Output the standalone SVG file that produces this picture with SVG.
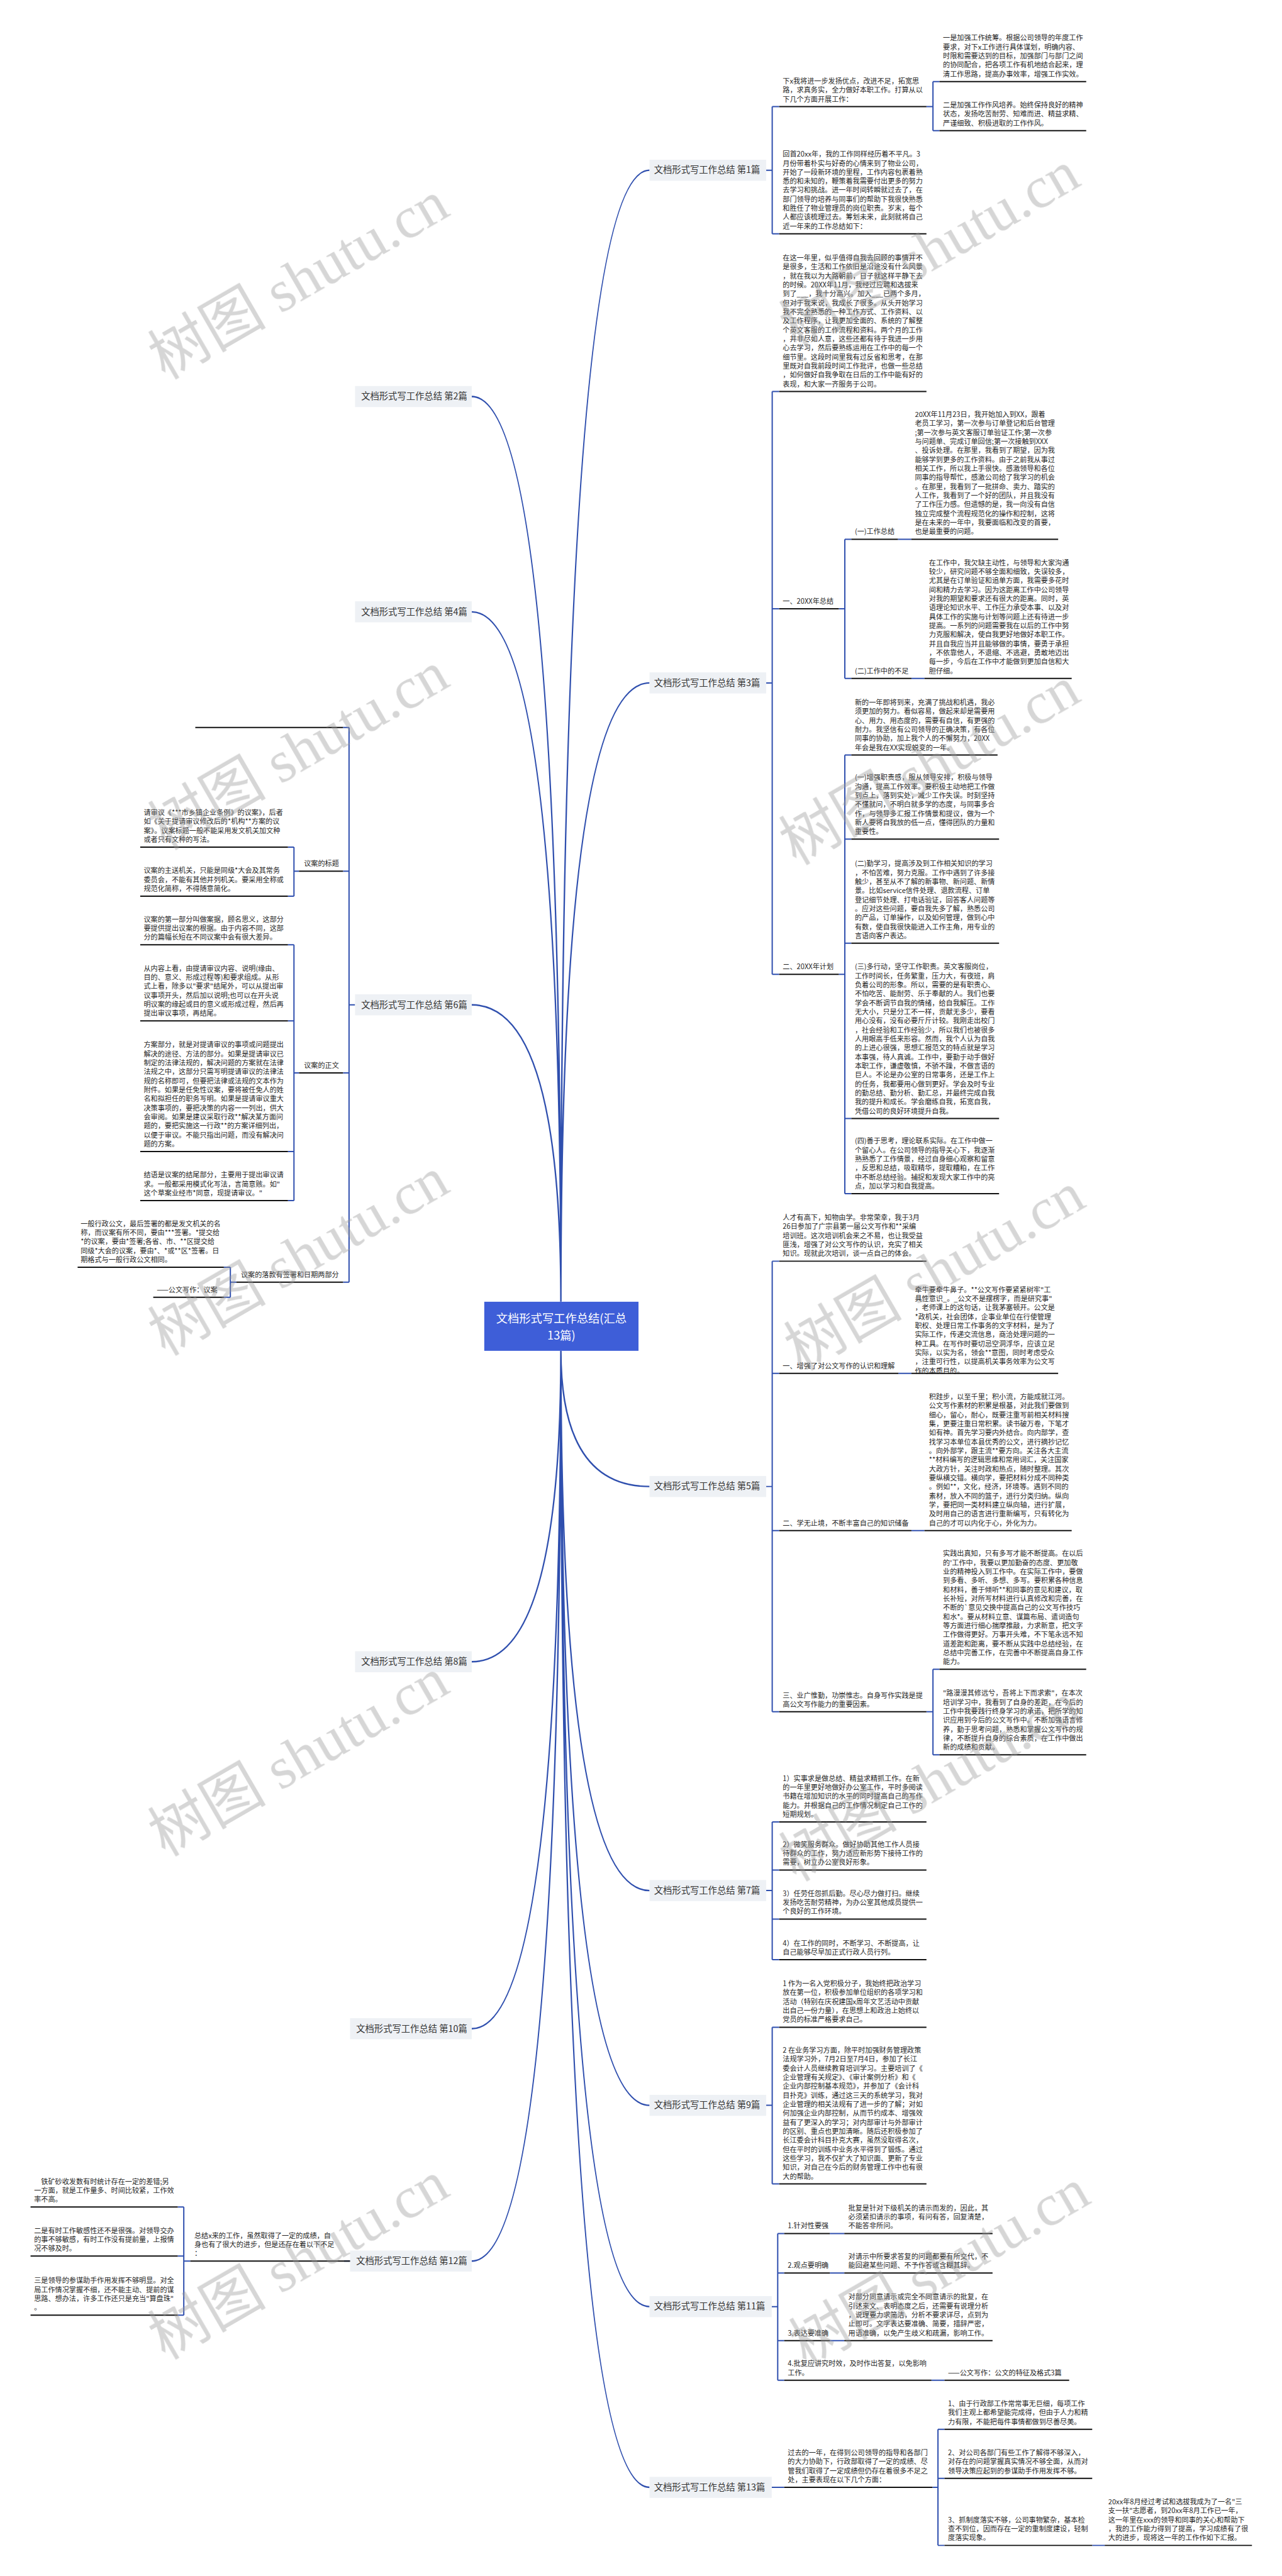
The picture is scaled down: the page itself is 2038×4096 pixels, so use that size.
<svg xmlns="http://www.w3.org/2000/svg" width="2038" height="4096" viewBox="0 0 2038 4096">
<style>
text{font-family:"Noto Sans CJK SC","Microsoft YaHei",sans-serif;font-size:14px;fill:#262626}
.lb{font-size:18px;fill:#333}
.ct{font-size:23px;fill:#fff}
.lbox{fill:#eef1f5}
.ul{stroke:#111;stroke-width:2.5;fill:none}
.cn{stroke:#2f4fae;stroke-width:2.5;fill:none;stroke-linejoin:round}
.cv{stroke:#2f4fae;stroke-width:3;fill:none}
.wm text{font-family:"Liberation Serif","Noto Sans CJK SC",serif;font-size:118px;fill:#9a9a9a}
</style>
<rect width="2038" height="4096" fill="#fff"/>
<g transform="scale(0.7961)">
<g id="connectors">
<path class="cv" d="M1120 2600Q1120 792 942 792M1120 2600Q1120 1222 942 1222M1120 2600Q1120 2007 942 2007M1120 2600Q1120 340 1297 340M1120 2600Q1120 1364 1297 1364M1120 2698Q1120 3319 942 3319M1120 2698Q1120 4052 942 4052M1120 2698Q1120 4516 942 4516M1120 2698Q1120 2969 1297 2969M1120 2698Q1120 3776 1297 3776M1120 2698Q1120 4205 1297 4205M1120 2698Q1120 4607 1297 4607M1120 2698Q1120 4968 1297 4968"/>
<path class="cn" d="M1530 340H1542M1542 213V467M1542 213H1556M1542 467H1556M1850 213H1863M1863 163V261M1863 163H1876M1863 261H1876"/>
<path class="cn" d="M1530 1364H1542M1542 782V1946M1542 782H1556M1542 1216H1556M1542 1946H1556M1675 1216H1687M1687 1077V1355M1687 1077H1700M1687 1355H1700M1793 1077H1820M1820 1355H1846M1675 1946H1687M1687 1508V2384M1687 1508H1700M1687 1676H1700M1687 1884H1700M1687 2234H1700M1687 2384H1700"/>
<path class="cn" d="M1530 2969H1542M1542 2519V3419M1542 2519H1556M1542 2743H1556M1542 3057H1556M1542 3419H1556M1794 2743H1820M1820 3057H1846M1850 3419H1863M1863 3334V3505M1863 3334H1876M1863 3505H1876"/>
<path class="cn" d="M1530 3776H1542M1542 3639V3914M1542 3639H1556M1542 3735H1556M1542 3833H1556M1542 3914H1556M1530 4205H1542M1542 4049V4362M1542 4049H1556M1542 4362H1556"/>
<path class="cn" d="M1541 4607H1553M1553 4461V4754M1553 4461H1566M1553 4540H1566M1553 4675H1566M1553 4754H1566M1657 4461H1686M1657 4540H1686M1657 4675H1686M1860 4754H1886M1541 4968H1566M1862 4968H1873M1873 4852V5084M1873 4852H1886M1873 4950H1886M1873 5084H1886M2181 5084H2206"/>
<path class="cn" d="M709 2007H697M697 1453V2561M697 1453H685M697 1740H685M697 2143H685M697 2561H685M597 1740H587M587 1692V1790M587 1692H575M587 1790H575M597 2143H587M587 1887V2398M587 1887H575M587 2039H575M587 2300H575M587 2398H575M472 2561H460M460 2531V2591M460 2531H447M460 2591H447"/>
<path class="cn" d="M699 4516H687M380 4516H367M367 4408V4624M367 4408H355M367 4506H355M367 4624H355"/>
</g>
<g id="center">
<rect x="967" y="2600" width="308" height="98" fill="#3e5ed8"/>
<text class="ct" x="1121" y="2641" text-anchor="middle">文档形式写工作总结(汇总</text>
<text class="ct" x="1121" y="2675" text-anchor="middle">13篇)</text>
</g>
<g id="b1">
<rect class="lbox" x="1297" y="319" width="233" height="42"/>
<text class="lb" x="1306" y="346">文档形式写工作总结 第1篇</text>
</g>
<g id="b1a">
<path class="ul" d="M1556 213H1850"/>
<text x="1563" y="167"><tspan x="1563">下x我将进一步发扬优点，改进不足，拓宽思</tspan><tspan x="1563" dy="18">路，求真务实，全力做好本职工作。打算从以</tspan><tspan x="1563" dy="18">下几个方面开展工作：</tspan></text>
</g>
<g id="b1a1">
<path class="ul" d="M1876 163H2169"/>
<text x="1883" y="81"><tspan x="1883">一是加强工作统筹。根据公司领导的年度工作</tspan><tspan x="1883" dy="18">要求，对下x工作进行具体谋划，明确内容、</tspan><tspan x="1883" dy="18">时限和需要达到的目标，加强部门与部门之间</tspan><tspan x="1883" dy="18">的协同配合，把各项工作有机地结合起来，理</tspan><tspan x="1883" dy="18">清工作思路，提高办事效率，增强工作实效。</tspan></text>
</g>
<g id="b1a2">
<path class="ul" d="M1876 261H2169"/>
<text x="1883" y="215"><tspan x="1883">二是加强工作作风培养。始终保持良好的精神</tspan><tspan x="1883" dy="18">状态，发扬吃苦耐劳、知难而进、精益求精、</tspan><tspan x="1883" dy="18">严谨细致、积极进取的工作作风。</tspan></text>
</g>
<g id="b1b">
<path class="ul" d="M1556 467H1850"/>
<text x="1563" y="313"><tspan x="1563">回首20xx年，我的工作同样经历着不平凡。3</tspan><tspan x="1563" dy="18">月份带着朴实与好奇的心情来到了物业公司，</tspan><tspan x="1563" dy="18">开始了一段新环境的里程，工作内容包裹着熟</tspan><tspan x="1563" dy="18">悉的和未知的，鞭策着我需要付出更多的努力</tspan><tspan x="1563" dy="18">去学习和挑战。进一年时间转瞬就过去了，在</tspan><tspan x="1563" dy="18">部门领导的培养与同事们的帮助下我很快熟悉</tspan><tspan x="1563" dy="18">和胜任了物业管理员的岗位职责。岁末，每个</tspan><tspan x="1563" dy="18">人都应该梳理过去。筹划未来，此刻就将自己</tspan><tspan x="1563" dy="18">近一年来的工作总结如下：</tspan></text>
</g>
<g id="b3">
<rect class="lbox" x="1297" y="1343" width="233" height="42"/>
<text class="lb" x="1306" y="1370">文档形式写工作总结 第3篇</text>
</g>
<g id="b3a">
<path class="ul" d="M1556 782H1850"/>
<text x="1563" y="520"><tspan x="1563">在这一年里，似乎值得自我去回顾的事情并不</tspan><tspan x="1563" dy="18">是很多，生活和工作依旧是沿途没有什么风景</tspan><tspan x="1563" dy="18">，就在我以为大路朝前，日子就这样平静下去</tspan><tspan x="1563" dy="18">的时候。20XX年11月，我经过应聘和选拔来</tspan><tspan x="1563" dy="18">到了___，我十分高兴。加入___已两个多月，</tspan><tspan x="1563" dy="18">但对于我来说，我成长了很多。从头开始学习</tspan><tspan x="1563" dy="18">我不完全熟悉的一种工作方式、工作资料、以</tspan><tspan x="1563" dy="18">及工作程序，让我更加全面的、系统的了解整</tspan><tspan x="1563" dy="18">个英文客服的工作流程和资料。两个月的工作</tspan><tspan x="1563" dy="18">，并非尽如人意，这些还都有待于我进一步用</tspan><tspan x="1563" dy="18">心去学习，然后要熟练运用在工作中的每一个</tspan><tspan x="1563" dy="18">细节里。这段时间里我有过反省和思考，在那</tspan><tspan x="1563" dy="18">里既对自我前段时间工作批评，也做一些总结</tspan><tspan x="1563" dy="18">，如何做好自我争取在日后的工作中能有好的</tspan><tspan x="1563" dy="18">表现，和大家一齐服务于公司。</tspan></text>
</g>
<g id="b3b">
<path class="ul" d="M1556 1216H1675"/>
<text x="1563" y="1206">一、20XX年总结</text>
</g>
<g id="b3b1">
<path class="ul" d="M1700 1077H1793"/>
<text x="1707" y="1067">(一)工作总结</text>
</g>
<g id="b3b1a">
<path class="ul" d="M1820 1077H2113"/>
<text x="1827" y="833"><tspan x="1827">20XX年11月23日，我开始加入到XX，跟着</tspan><tspan x="1827" dy="18">老员工学习，第一次参与订单登记和后台管理</tspan><tspan x="1827" dy="18">;第一次参与英文客服订单验证工作;第一次参</tspan><tspan x="1827" dy="18">与问题单、完成订单回信;第一次接触到XXX</tspan><tspan x="1827" dy="18">、投诉处理。在那里，我看到了期望，因为我</tspan><tspan x="1827" dy="18">能够学到更多的工作资料。由于之前我从事过</tspan><tspan x="1827" dy="18">相关工作，所以我上手很快。感激领导和各位</tspan><tspan x="1827" dy="18">同事的指导帮忙，感激公司给了我学习的机会</tspan><tspan x="1827" dy="18">。在那里，我看到了一批拼命、卖力、踏实的</tspan><tspan x="1827" dy="18">人工作，我看到了一个好的团队，并且我没有</tspan><tspan x="1827" dy="18">了工作压力感。但遗憾的是，我一向没有自信</tspan><tspan x="1827" dy="18">独立完成整个流程规范化的操作和控制，这将</tspan><tspan x="1827" dy="18">是在未来的一年中，我要面临和改变的首要，</tspan><tspan x="1827" dy="18">也是最重要的问题。</tspan></text>
</g>
<g id="b3b2">
<path class="ul" d="M1700 1355H1820"/>
<text x="1707" y="1345">(二)工作中的不足</text>
</g>
<g id="b3b2a">
<path class="ul" d="M1846 1355H2140"/>
<text x="1855" y="1129"><tspan x="1855">在工作中，我欠缺主动性，与领导和大家沟通</tspan><tspan x="1855" dy="18">较少，研究问题不够全面和细致，失误较多，</tspan><tspan x="1855" dy="18">尤其是在订单验证和追单方面，我需要多花时</tspan><tspan x="1855" dy="18">间和精力去学习。因为这距离工作中公司领导</tspan><tspan x="1855" dy="18">对我的期望和要求还有很大的距离。同时，英</tspan><tspan x="1855" dy="18">语理论知识水平、工作压力承受本事、以及对</tspan><tspan x="1855" dy="18">具体工作的实施与计划等问题上还有待进一步</tspan><tspan x="1855" dy="18">提高。一系列的问题需要我在以后的工作中努</tspan><tspan x="1855" dy="18">力克服和解决，使自我更好地做好本职工作。</tspan><tspan x="1855" dy="18">并且自我应当并且能够做的事情，要勇于承担</tspan><tspan x="1855" dy="18">，不依靠他人，不退缩、不逃避，勇敢地迈出</tspan><tspan x="1855" dy="18">每一步，今后在工作中才能做到更加自信和大</tspan><tspan x="1855" dy="18">胆仔细。</tspan></text>
</g>
<g id="b3c">
<path class="ul" d="M1556 1946H1675"/>
<text x="1563" y="1936">二、20XX年计划</text>
</g>
<g id="b3c1">
<path class="ul" d="M1700 1508H1992"/>
<text x="1707" y="1408"><tspan x="1707">新的一年即将到来，充满了挑战和机遇，我必</tspan><tspan x="1707" dy="18">须更加的努力。看似容易，做起来却是需要用</tspan><tspan x="1707" dy="18">心、用力、用态度的，需要有自信，有更强的</tspan><tspan x="1707" dy="18">耐力。我坚信有公司领导的正确决策，有各位</tspan><tspan x="1707" dy="18">同事的协助，加上我个人的不懈努力，20XX</tspan><tspan x="1707" dy="18">年会是我在XX实现蜕变的一年。</tspan></text>
</g>
<g id="b3c2">
<path class="ul" d="M1700 1676H1995"/>
<text x="1707" y="1558"><tspan x="1707">(一)增强职责感，服从领导安排，积极与领导</tspan><tspan x="1707" dy="18">沟通，提高工作效率。要积极主动地把工作做</tspan><tspan x="1707" dy="18">到点上，落到实处，减少工作失误。时刻坚持</tspan><tspan x="1707" dy="18">不懂就问，不明白就多学的态度，与同事多合</tspan><tspan x="1707" dy="18">作，与领导多汇报工作情景和提议，做为一个</tspan><tspan x="1707" dy="18">新人要将自我放的低一点，懂得团队的力量和</tspan><tspan x="1707" dy="18">重要性。</tspan></text>
</g>
<g id="b3c3">
<path class="ul" d="M1700 1884H1995"/>
<text x="1707" y="1730"><tspan x="1707">(二)勤学习，提高涉及到工作相关知识的学习</tspan><tspan x="1707" dy="18">，不怕苦难，努力克服。工作中遇到了许多接</tspan><tspan x="1707" dy="18">触少，甚至从不了解的新事物、新问题、新情</tspan><tspan x="1707" dy="18">景。比如service信件处理、退款流程、订单</tspan><tspan x="1707" dy="18">登记细节处理、打电话验证，回答客人问题等</tspan><tspan x="1707" dy="18">。应对这些问题，要自我先多了解，熟悉公司</tspan><tspan x="1707" dy="18">的产品，订单操作，以及如何管理，做到心中</tspan><tspan x="1707" dy="18">有数，使自我很快能进入工作主角，用专业的</tspan><tspan x="1707" dy="18">言语向客户表达。</tspan></text>
</g>
<g id="b3c4">
<path class="ul" d="M1700 2234H1995"/>
<text x="1707" y="1936"><tspan x="1707">(三)多行动，坚守工作职责。英文客服岗位，</tspan><tspan x="1707" dy="18">工作时间长，任务繁重，压力大，有夜班，肩</tspan><tspan x="1707" dy="18">负着公司的形象。所以，需要的是有职责心、</tspan><tspan x="1707" dy="18">不怕吃苦、能耐劳、乐于奉献的人。我们也要</tspan><tspan x="1707" dy="18">学会不断调节自我的情绪，给自我解压。工作</tspan><tspan x="1707" dy="18">无大小，只是分工不一样，贡献无多少，要看</tspan><tspan x="1707" dy="18">用心没有，没有必要斤斤计较。我刚走出校门</tspan><tspan x="1707" dy="18">，社会经验和工作经验少，所以我们也被很多</tspan><tspan x="1707" dy="18">人用眼高手低来形容。然而，我个人认为自我</tspan><tspan x="1707" dy="18">的上进心很强，思想汇报范文的特点就是学习</tspan><tspan x="1707" dy="18">本事强，待人真诚。工作中，要勤于动手做好</tspan><tspan x="1707" dy="18">本职工作，谦虚敬慎，不骄不躁，不做言语的</tspan><tspan x="1707" dy="18">巨人。不论是办公室的日常事务，还是工作上</tspan><tspan x="1707" dy="18">的任务，我都要用心做到更好。学会及时专业</tspan><tspan x="1707" dy="18">的勤总结、勤分析、勤汇总，并最终完成自我</tspan><tspan x="1707" dy="18">我的提升和成长。学会磨练自我，拓宽自我，</tspan><tspan x="1707" dy="18">凭借公司的良好环境提升自我。</tspan></text>
</g>
<g id="b3c5">
<path class="ul" d="M1700 2384H1995"/>
<text x="1707" y="2284"><tspan x="1707">(四)善于思考，理论联系实际。在工作中做一</tspan><tspan x="1707" dy="18">个留心人。在公司领导的指导关心下，我逐渐</tspan><tspan x="1707" dy="18">熟熟悉了工作情景，经过自身细心观察和留意</tspan><tspan x="1707" dy="18">，反思和总结，吸取精华，提取糟粕，在工作</tspan><tspan x="1707" dy="18">中不断总结经验。捕捉和发现大家工作中的亮</tspan><tspan x="1707" dy="18">点，加以学习和自我提高。</tspan></text>
</g>
<g id="b5">
<rect class="lbox" x="1297" y="2948" width="233" height="42"/>
<text class="lb" x="1306" y="2975">文档形式写工作总结 第5篇</text>
</g>
<g id="b5a">
<path class="ul" d="M1556 2519H1850"/>
<text x="1563" y="2437"><tspan x="1563">人才有高下，知物由学。非常荣幸，我于3月</tspan><tspan x="1563" dy="18">26日参加了广宗县第一届公文写作和**采编</tspan><tspan x="1563" dy="18">培训班。这次培训机会来之不易，也让我受益</tspan><tspan x="1563" dy="18">匪浅，增强了对公文写作的认识，充实了相关</tspan><tspan x="1563" dy="18">知识。现就此次培训，谈一点自己的体会。</tspan></text>
</g>
<g id="b5b">
<path class="ul" d="M1556 2743H1794"/>
<text x="1563" y="2733">一、增强了对公文写作的认识和理解</text>
</g>
<g id="b5b1">
<path class="ul" d="M1820 2743H2113"/>
<text x="1827" y="2581"><tspan x="1827">牵牛要牵牛鼻子。**公文写作要紧紧树牢"工</tspan><tspan x="1827" dy="18">具性意识_。_公文不是摆楞字，而是研究事"</tspan><tspan x="1827" dy="18">，老师课上的这句话，让我茅塞顿开。公文是</tspan><tspan x="1827" dy="18">*政机关，社会团体，企事业单位在行使管理</tspan><tspan x="1827" dy="18">职权、处理日常工作事务的文字材料，是为了</tspan><tspan x="1827" dy="18">实际工作，传递交流信息，商洽处理问题的一</tspan><tspan x="1827" dy="18">种工具。在写作时要切忌空洞浮华，应该立足</tspan><tspan x="1827" dy="18">实际，以实为名，领会**意图，同时考虑受众</tspan><tspan x="1827" dy="18">，注重可行性，以提高机关事务效率为公文写</tspan><tspan x="1827" dy="18">作的本质目的。</tspan></text>
</g>
<g id="b5c">
<path class="ul" d="M1556 3057H1820"/>
<text x="1563" y="3047">二、学无止境，不断丰富自己的知识储备</text>
</g>
<g id="b5c1">
<path class="ul" d="M1846 3057H2140"/>
<text x="1855" y="2795"><tspan x="1855">积跬步，以至千里；积小流，方能成就江河。</tspan><tspan x="1855" dy="18">公文写作素材的积累是根基，对此我们要做到</tspan><tspan x="1855" dy="18">细心，留心，耐心，既要注重写前相关材料搜</tspan><tspan x="1855" dy="18">集，更要注重日常积累。读书破万卷，下笔才</tspan><tspan x="1855" dy="18">如有神。首先学习要内外结合。向内部学，查</tspan><tspan x="1855" dy="18">找学习本单位本县优秀的公文，进行摘抄记忆</tspan><tspan x="1855" dy="18">。向外部学，跟主流**要方向。关注各大主流</tspan><tspan x="1855" dy="18">**材料编写的逻辑思维和常用词汇，关注国家</tspan><tspan x="1855" dy="18">大政方针，关注时政和热点，随时整理。其次</tspan><tspan x="1855" dy="18">要纵横交错。横向学，要把材料分成不同种类</tspan><tspan x="1855" dy="18">。例如**，文化，经济，环境等。遇到不同的</tspan><tspan x="1855" dy="18">素材，放入不同的篮子，进行分类归纳。纵向</tspan><tspan x="1855" dy="18">学，要把同一类材料建立纵向轴，进行扩展，</tspan><tspan x="1855" dy="18">及时用自己的语言进行重新编写，只有转化为</tspan><tspan x="1855" dy="18">自己的才可以内化于心，外化为力。</tspan></text>
</g>
<g id="b5d">
<path class="ul" d="M1556 3419H1850"/>
<text x="1563" y="3391"><tspan x="1563">三、业广惟勤，功崇惟志。自身写作实践是提</tspan><tspan x="1563" dy="18">高公文写作能力的重要因素。</tspan></text>
</g>
<g id="b5d1">
<path class="ul" d="M1876 3334H2169"/>
<text x="1883" y="3108"><tspan x="1883">实践出真知，只有多写才能不断提高。在以后</tspan><tspan x="1883" dy="18">的'工作中，我要以更加勤奋的态度、更加敬</tspan><tspan x="1883" dy="18">业的精神投入到工作中。在实际工作中，要做</tspan><tspan x="1883" dy="18">到多看、多听、多想、多写。要积累各种信息</tspan><tspan x="1883" dy="18">和材料，善于倾听**和同事的意见和建议，取</tspan><tspan x="1883" dy="18">长补短，对所写材料进行认真修改和完善，在</tspan><tspan x="1883" dy="18">不断的`意见交换中提高自己的公文写作技巧</tspan><tspan x="1883" dy="18">和水*。要从材料立意、谋篇布局、遣词造句</tspan><tspan x="1883" dy="18">等方面进行细心揣摩推敲，力求新意，把文字</tspan><tspan x="1883" dy="18">工作做得更好。万事开头难，不下笔永远不知</tspan><tspan x="1883" dy="18">道差距和距离，要不断从实践中总结经验，在</tspan><tspan x="1883" dy="18">总结中完善工作，在完善中不断提高自身工作</tspan><tspan x="1883" dy="18">能力。</tspan></text>
</g>
<g id="b5d2">
<path class="ul" d="M1876 3505H2169"/>
<text x="1883" y="3387"><tspan x="1883">"路漫漫其修远兮，吾将上下而求索"，在本次</tspan><tspan x="1883" dy="18">培训学习中，我看到了自身的差距，在今后的</tspan><tspan x="1883" dy="18">工作中我要践行终身学习的承诺，把所学的知</tspan><tspan x="1883" dy="18">识应用到今后的公文写作中。不断加强语言修</tspan><tspan x="1883" dy="18">养，勤于思考问题，熟悉和掌握公文写作的规</tspan><tspan x="1883" dy="18">律，不断提升自身的综合素质，在工作中做出</tspan><tspan x="1883" dy="18">新的成绩和贡献。</tspan></text>
</g>
<g id="b7">
<rect class="lbox" x="1297" y="3755" width="233" height="42"/>
<text class="lb" x="1306" y="3782">文档形式写工作总结 第7篇</text>
</g>
<g id="b7a">
<path class="ul" d="M1556 3639H1850"/>
<text x="1563" y="3557"><tspan x="1563">1）实事求是做总结、精益求精抓工作。在新</tspan><tspan x="1563" dy="18">的一年里更好地做好办公室工作，平时多阅读</tspan><tspan x="1563" dy="18">书籍在增加知识的水平的同时提高自己的写作</tspan><tspan x="1563" dy="18">能力。并根据自己的工作情况制定自己工作的</tspan><tspan x="1563" dy="18">短期规划。</tspan></text>
</g>
<g id="b7b">
<path class="ul" d="M1556 3735H1850"/>
<text x="1563" y="3689"><tspan x="1563">2）微笑服务群众。做好协助其他工作人员接</tspan><tspan x="1563" dy="18">待群众的工作，努力适应新形势下接待工作的</tspan><tspan x="1563" dy="18">需要，树立办公室良好形象。</tspan></text>
</g>
<g id="b7c">
<path class="ul" d="M1556 3833H1850"/>
<text x="1563" y="3787"><tspan x="1563">3）任劳任怨抓后勤。尽心尽力做打扫。继续</tspan><tspan x="1563" dy="18">发扬吃苦耐劳精神，为办公室其他成员提供一</tspan><tspan x="1563" dy="18">个良好的工作环境。</tspan></text>
</g>
<g id="b7d">
<path class="ul" d="M1556 3914H1850"/>
<text x="1563" y="3886"><tspan x="1563">4）在工作的同时，不断学习、不断提高，让</tspan><tspan x="1563" dy="18">自己能够尽早加正式行政人员行列。</tspan></text>
</g>
<g id="b9">
<rect class="lbox" x="1297" y="4184" width="233" height="42"/>
<text class="lb" x="1306" y="4211">文档形式写工作总结 第9篇</text>
</g>
<g id="b9a">
<path class="ul" d="M1556 4049H1850"/>
<text x="1563" y="3967"><tspan x="1563">1 作为一名入党积极分子，我始终把政治学习</tspan><tspan x="1563" dy="18">放在第一位，积极参加单位组织的各项学习和</tspan><tspan x="1563" dy="18">活动（特别在庆祝建国x周年文艺活动中贡献</tspan><tspan x="1563" dy="18">出自己一份力量），在思想上和政治上始终以</tspan><tspan x="1563" dy="18">党员的标准严格要求自己。</tspan></text>
</g>
<g id="b9b">
<path class="ul" d="M1556 4362H1850"/>
<text x="1563" y="4100"><tspan x="1563">2 在业务学习方面，除平时加强财务管理政策</tspan><tspan x="1563" dy="18">法规学习外，7月2日至7月4日，参加了长江</tspan><tspan x="1563" dy="18">委会计人员继续教育培训学习。主要培训了《</tspan><tspan x="1563" dy="18">企业管理有关规定》、《审计案例分析》和《</tspan><tspan x="1563" dy="18">企业内部控制基本规范》，并参加了《会计科</tspan><tspan x="1563" dy="18">目扑克》训练，通过这三天的系统学习，我对</tspan><tspan x="1563" dy="18">企业管理的相关法规有了进一步的了解；对如</tspan><tspan x="1563" dy="18">何加强企业内部控制，从而节约成本、增强效</tspan><tspan x="1563" dy="18">益有了更深入的学习；对内部审计与外部审计</tspan><tspan x="1563" dy="18">的区别、重点也更加清晰。随后还积极参加了</tspan><tspan x="1563" dy="18">长江委会计科目扑克大赛，虽然没取得名次，</tspan><tspan x="1563" dy="18">但在平时的训练中业务水平得到了锻炼。通过</tspan><tspan x="1563" dy="18">这些学习，我不仅扩大了知识面、更新了专业</tspan><tspan x="1563" dy="18">知识，对自己在今后的财务管理工作中也有很</tspan><tspan x="1563" dy="18">大的帮助。</tspan></text>
</g>
<g id="b11">
<rect class="lbox" x="1297" y="4586" width="244" height="42"/>
<text class="lb" x="1306" y="4613">文档形式写工作总结 第11篇</text>
</g>
<g id="b11a">
<path class="ul" d="M1566 4461H1657"/>
<text x="1573" y="4451">1.针对性要强</text>
</g>
<g id="b11a1">
<path class="ul" d="M1686 4461H1982"/>
<text x="1694" y="4415"><tspan x="1694">批复是针对下级机关的请示而发的，因此，其</tspan><tspan x="1694" dy="18">必须紧扣请示的事项，有问有答，回复清楚，</tspan><tspan x="1694" dy="18">不能答非所问。</tspan></text>
</g>
<g id="b11b">
<path class="ul" d="M1566 4540H1657"/>
<text x="1573" y="4530">2.观点要明确</text>
</g>
<g id="b11b1">
<path class="ul" d="M1686 4540H1982"/>
<text x="1694" y="4512"><tspan x="1694">对请示中所要求答复的问题都要有所交代，不</tspan><tspan x="1694" dy="18">能回避某些问题、不予作答或含糊其辞。</tspan></text>
</g>
<g id="b11c">
<path class="ul" d="M1566 4675H1657"/>
<text x="1573" y="4665">3.表达要准确</text>
</g>
<g id="b11c1">
<path class="ul" d="M1686 4675H1982"/>
<text x="1694" y="4593"><tspan x="1694">对部分同意请示或完全不同意请示的批复，在</tspan><tspan x="1694" dy="18">引述来文、表明态度之后，还需要有说理分析</tspan><tspan x="1694" dy="18">，说理要力求简洁，分析不要求详尽，点到为</tspan><tspan x="1694" dy="18">止即可。文字表达要准确、简要，措辞严密，</tspan><tspan x="1694" dy="18">用语准确，以免产生歧义和疏漏，影响工作。</tspan></text>
</g>
<g id="b11d">
<path class="ul" d="M1566 4754H1860"/>
<text x="1573" y="4726"><tspan x="1573">4.批复应讲究时效，及时作出答复，以免影响</tspan><tspan x="1573" dy="18">工作。</tspan></text>
</g>
<g id="b11d1">
<path class="ul" d="M1886 4754H2135"/>
<text x="1893" y="4744">——公文写作：公文的特征及格式3篇</text>
</g>
<g id="b13">
<rect class="lbox" x="1297" y="4947" width="244" height="42"/>
<text class="lb" x="1306" y="4974">文档形式写工作总结 第13篇</text>
</g>
<g id="b13a">
<path class="ul" d="M1566 4968H1862"/>
<text x="1573" y="4904"><tspan x="1573">过去的一年，在得到公司领导的指导和各部门</tspan><tspan x="1573" dy="18">的大力协助下，行政部取得了一定的成绩、尽</tspan><tspan x="1573" dy="18">管我们取得了一定成绩但仍存在着很多不足之</tspan><tspan x="1573" dy="18">处，主要表现在以下几个方面：</tspan></text>
</g>
<g id="b13a1">
<path class="ul" d="M1886 4852H2181"/>
<text x="1893" y="4806"><tspan x="1893">1、由于行政部工作常常事无巨细，每项工作</tspan><tspan x="1893" dy="18">我们主观上都希望能完成得，但由于人力和精</tspan><tspan x="1893" dy="18">力有限，不能把每件事情都做到尽善尽美。</tspan></text>
</g>
<g id="b13a2">
<path class="ul" d="M1886 4950H2181"/>
<text x="1893" y="4904"><tspan x="1893">2、对公司各部门有些工作了解得不够深入，</tspan><tspan x="1893" dy="18">对存在的问题掌握真实情况不够全面，从而对</tspan><tspan x="1893" dy="18">领导决策应起到的参谋助手作用发挥不够。</tspan></text>
</g>
<g id="b13a3">
<path class="ul" d="M1886 5084H2181"/>
<text x="1893" y="5038"><tspan x="1893">3、抓制度落实不够，公司事物繁杂，基本检</tspan><tspan x="1893" dy="18">查不到位，因而存在一定的重制度建设，轻制</tspan><tspan x="1893" dy="18">度落实现象。</tspan></text>
</g>
<g id="b13a3a">
<path class="ul" d="M2206 5084H2500"/>
<text x="2213" y="5002"><tspan x="2213">20xx年8月经过考试和选拔我成为了一名"三</tspan><tspan x="2213" dy="18">支一扶"志愿者，到20xx年8月工作已一年，</tspan><tspan x="2213" dy="18">这一年里在xxx的领导和同事的关心和帮助下</tspan><tspan x="2213" dy="18">，我的工作能力得到了提高，学习成绩有了很</tspan><tspan x="2213" dy="18">大的进步，现将这一年的工作作如下汇报。</tspan></text>
</g>
<g id="b2">
<rect class="lbox" x="709" y="771" width="233" height="42"/>
<text class="lb" x="933" y="798" text-anchor="end">文档形式写工作总结 第2篇</text>
</g>
<g id="b4">
<rect class="lbox" x="709" y="1201" width="233" height="42"/>
<text class="lb" x="933" y="1228" text-anchor="end">文档形式写工作总结 第4篇</text>
</g>
<g id="b6">
<rect class="lbox" x="709" y="1986" width="233" height="42"/>
<text class="lb" x="933" y="2013" text-anchor="end">文档形式写工作总结 第6篇</text>
</g>
<g id="b6a">
<path class="ul" d="M390 1453H685"/>
</g>
<g id="b6b">
<path class="ul" d="M597 1740H685"/>
<text x="607" y="1730">议案的标题</text>
</g>
<g id="b6b1">
<path class="ul" d="M280 1692H575"/>
<text x="287" y="1628"><tspan x="287">请审议《***市乡镇企业条例》的议案》，后者</tspan><tspan x="287" dy="18">如《关于提请审议修改后的*机构**方案的议</tspan><tspan x="287" dy="18">案》。议案标题一般不能采用发文机关加文种</tspan><tspan x="287" dy="18">或者只有文种的写法。</tspan></text>
</g>
<g id="b6b2">
<path class="ul" d="M280 1790H575"/>
<text x="287" y="1744"><tspan x="287">议案的主送机关，只能是同级*大会及其常务</tspan><tspan x="287" dy="18">委员会，不能有其他并列机关。要采用全称或</tspan><tspan x="287" dy="18">规范化简称，不得随意简化。</tspan></text>
</g>
<g id="b6c">
<path class="ul" d="M597 2143H685"/>
<text x="607" y="2133">议案的正文</text>
</g>
<g id="b6c1">
<path class="ul" d="M280 1887H575"/>
<text x="287" y="1841"><tspan x="287">议案的第一部分叫做案据，顾名思义，这部分</tspan><tspan x="287" dy="18">要提供提出议案的根据。由于内容不同，这部</tspan><tspan x="287" dy="18">分的篇幅长短在不同议案中会有很大差异。</tspan></text>
</g>
<g id="b6c2">
<path class="ul" d="M280 2039H575"/>
<text x="287" y="1939"><tspan x="287">从内容上看，由提请审议内容、说明(缘由、</tspan><tspan x="287" dy="18">目的、意义、形成过程等)和要求组成。从形</tspan><tspan x="287" dy="18">式上看，除多以"要求"结尾外，可以从提出审</tspan><tspan x="287" dy="18">议事项开头，然后加以说明;也可以在开头说</tspan><tspan x="287" dy="18">明议案的缘起或目的意义或形成过程，然后再</tspan><tspan x="287" dy="18">提出审议事项，再结尾。</tspan></text>
</g>
<g id="b6c3">
<path class="ul" d="M280 2300H575"/>
<text x="287" y="2092"><tspan x="287">方案部分，就是对提请审议的事项或问题提出</tspan><tspan x="287" dy="18">解决的途径、方法的部分。如果是提请审议已</tspan><tspan x="287" dy="18">制定的法律法规的，解决问题的方案就在法律</tspan><tspan x="287" dy="18">法规之中，这部分只需写明提请审议的法律法</tspan><tspan x="287" dy="18">规的名称即可，但要把法律或法规的文本作为</tspan><tspan x="287" dy="18">附件。如果是任免性议案，要将被任免人的姓</tspan><tspan x="287" dy="18">名和拟担任的职务写明。如果是提请审议重大</tspan><tspan x="287" dy="18">决策事项的，要把决策的内容一一列出，供大</tspan><tspan x="287" dy="18">会审阅。如果是建议采取行政**解决某方面问</tspan><tspan x="287" dy="18">题的，要把实施这一行政**的方案详细列出，</tspan><tspan x="287" dy="18">以便于审议。不能只指出问题，而没有解决问</tspan><tspan x="287" dy="18">题的方案。</tspan></text>
</g>
<g id="b6c4">
<path class="ul" d="M280 2398H575"/>
<text x="287" y="2352"><tspan x="287">结语是议案的结尾部分，主要用于提出审议请</tspan><tspan x="287" dy="18">求。一般都采用模式化写法，言简意赅。如"</tspan><tspan x="287" dy="18">这个草案业经市*同意，现提请审议。"</tspan></text>
</g>
<g id="b6d">
<path class="ul" d="M472 2561H685"/>
<text x="481" y="2551">议案的落款有签署和日期两部分</text>
</g>
<g id="b6d1">
<path class="ul" d="M155 2531H447"/>
<text x="161" y="2449"><tspan x="161">一般行政公文，最后签署的都是发文机关的名</tspan><tspan x="161" dy="18">称，而议案有所不同，要由***签署。*提交给</tspan><tspan x="161" dy="18">*的议案，要由*签署;各省、市、**区提交给</tspan><tspan x="161" dy="18">同级*大会的议案，要由*、*或**区*签署。日</tspan><tspan x="161" dy="18">期格式与一般行政公文相同。</tspan></text>
</g>
<g id="b6d2">
<path class="ul" d="M306 2591H447"/>
<text x="313" y="2581">——公文写作：议案</text>
</g>
<g id="b8">
<rect class="lbox" x="709" y="3298" width="233" height="42"/>
<text class="lb" x="933" y="3325" text-anchor="end">文档形式写工作总结 第8篇</text>
</g>
<g id="b10">
<rect class="lbox" x="699" y="4031" width="243" height="42"/>
<text class="lb" x="933" y="4058" text-anchor="end">文档形式写工作总结 第10篇</text>
</g>
<g id="b12">
<rect class="lbox" x="699" y="4495" width="243" height="42"/>
<text class="lb" x="933" y="4522" text-anchor="end">文档形式写工作总结 第12篇</text>
</g>
<g id="b12a">
<path class="ul" d="M380 4516H699"/>
<text x="388" y="4470"><tspan x="388">总结x来的工作，虽然取得了一定的成绩，自</tspan><tspan x="388" dy="18">身也有了很大的进步，但是还存在着以下不足</tspan><tspan x="388" dy="18">：</tspan></text>
</g>
<g id="b12a1">
<path class="ul" d="M61 4408H355"/>
<text x="82" y="4362"><tspan x="82">铁矿砂收发数有时统计存在一定的差错;另</tspan><tspan x="68" dy="18">一方面，就是工作量多、时间比较紧，工作效</tspan><tspan x="68" dy="18">率不高。</tspan></text>
</g>
<g id="b12a2">
<path class="ul" d="M61 4506H355"/>
<text x="68" y="4460"><tspan x="68">二是有时工作敏感性还不是很强。对领导交办</tspan><tspan x="68" dy="18">的事不够敏感，有时工作没有提前量，上报情</tspan><tspan x="68" dy="18">况不够及时。</tspan></text>
</g>
<g id="b12a3">
<path class="ul" d="M61 4624H355"/>
<text x="68" y="4560"><tspan x="68">三是领导的参谋助手作用发挥不够明显。对全</tspan><tspan x="68" dy="18">局工作情况掌握不细，还不能主动、提前的谋</tspan><tspan x="68" dy="18">思路、想办法，许多工作还只是充当"算盘珠"</tspan><tspan x="68" dy="18">。</tspan></text>
</g>
<g class="wm" opacity="0.4">
<text transform="translate(330 760) rotate(-30)">树图 shutu.cn</text>
<text transform="translate(330 1700) rotate(-30)">树图 shutu.cn</text>
<text transform="translate(330 2710) rotate(-30)">树图 shutu.cn</text>
<text transform="translate(330 3710) rotate(-30)">树图 shutu.cn</text>
<text transform="translate(330 4715) rotate(-30)">树图 shutu.cn</text>
<text transform="translate(1590 700) rotate(-30)">树图 shutu.cn</text>
<text transform="translate(1590 1730) rotate(-30)">树图 shutu.cn</text>
<text transform="translate(1600 2740) rotate(-30)">树图 shutu.cn</text>
<text transform="translate(1590 3760) rotate(-30)">树图 shutu.cn</text>
<text transform="translate(1610 4730) rotate(-30)">树图 shutu.cn</text>
</g>
</g>
</svg>
